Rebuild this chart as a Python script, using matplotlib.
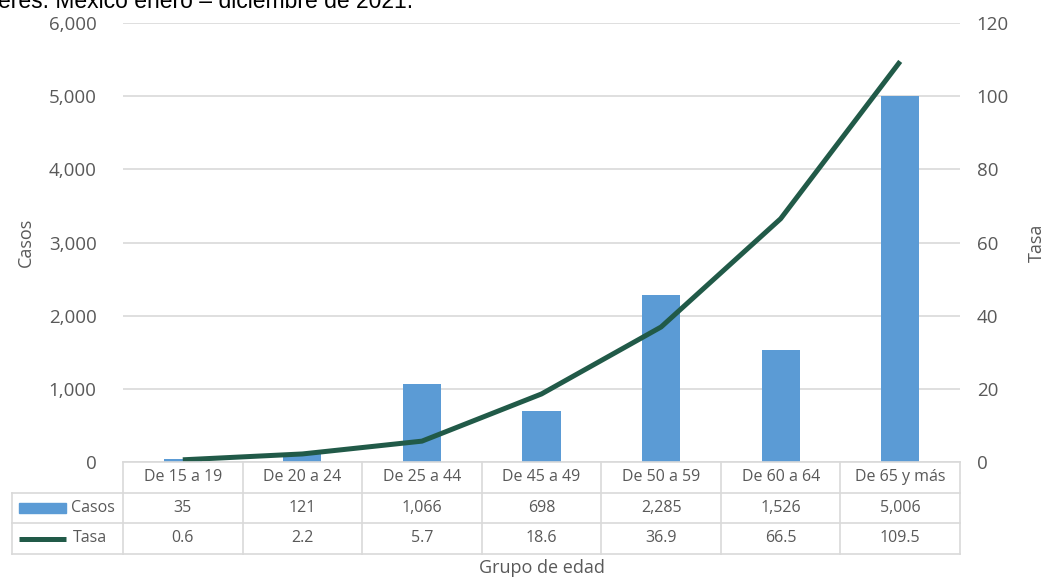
import matplotlib
matplotlib.use("Agg")
import matplotlib.pyplot as plt
from matplotlib.lines import Line2D
from matplotlib.patches import Rectangle
from matplotlib.ticker import FuncFormatter, MultipleLocator
import matplotlib.transforms as mtransforms

# Data
grupos = ["De 15 a 19", "De 20 a 24", "De 25 a 44", "De 45 a 49",
          "De 50 a 59", "De 60 a 64", "De 65 y más"]
casos = [35, 121, 1066, 698, 2285, 1526, 5006]
tasa = [0.6, 2.2, 5.7, 18.6, 36.9, 66.5, 109.5]
casos_labels = ["35", "121", "1,066", "698", "2,285", "1,526", "5,006"]
tasa_labels = ["0.6", "2.2", "5.7", "18.6", "36.9", "66.5", "109.5"]
titulo = "eres. México enero – diciembre de 2021."

BAR = "#5b9bd5"
LINE = "#215a48"
GRID = "#d9d9d9"
TXT = "#595959"
FONT = "Open Sans"

W, H = 1050, 586
fig = plt.figure(figsize=(W / 100, H / 100), dpi=100)
fig.patch.set_facecolor("white")


def fx(px):
    return px / W


def fy(py):
    return 1 - py / H


# Plot area
left, right, top, bottom = 123, 960, 23, 462
ax = fig.add_axes([fx(left), fy(bottom), fx(right - left), (bottom - top) / H])
ax2 = ax.twinx()

x = list(range(len(grupos)))
ax.bar(x, casos, width=0.32, color=BAR, zorder=2)
ax2.plot(x, tasa, color=LINE, lw=3.6, solid_capstyle="butt", zorder=3)

ax.set_xlim(-0.5, len(grupos) - 0.5)
ax.set_ylim(0, 6000)
ax2.set_ylim(0, 120)
ax.yaxis.set_major_locator(MultipleLocator(1000))
ax2.yaxis.set_major_locator(MultipleLocator(20))
ax.yaxis.set_major_formatter(FuncFormatter(lambda v, p: f"{int(v):,}"))
ax.set_xticks([])
ax.grid(axis="y", color=GRID, lw=1.2, zorder=0)
ax.set_axisbelow(True)
for a in (ax, ax2):
    for s in a.spines.values():
        s.set_visible(False)
    a.tick_params(axis="y", length=0, labelsize=13.5, labelcolor=TXT)
    for lab in a.get_yticklabels():
        lab.set_fontfamily(FONT)
ax.tick_params(axis="y", pad=19)
ax2.tick_params(axis="y", pad=12)
ax2.set_zorder(ax.get_zorder() + 1)
ax2.patch.set_visible(False)

ax.set_ylabel("Casos", fontsize=13, color=TXT, fontfamily=FONT, labelpad=10)
ax2.set_ylabel("Tasa", fontsize=13, color=TXT, fontfamily=FONT, labelpad=14)

# Data table below the plot
tr = mtransforms.blended_transform_factory(ax.transData, fig.transFigure)
rows = [462, 492.5, 523, 554]
x0 = -0.5
x1 = len(grupos) - 0.5
xl = -0.5 - (left - 12) / ((right - left) / len(grupos))


def hline(xa, xb, py):
    fig.add_artist(Line2D([xa, xb], [fy(py), fy(py)], transform=tr,
                          color=GRID, lw=1.2, clip_on=False))


def vline(xv, pa, pb):
    fig.add_artist(Line2D([xv, xv], [fy(pa), fy(pb)], transform=tr,
                          color=GRID, lw=1.2, clip_on=False))


hline(x0, x1, rows[0])
for r in rows[1:]:
    hline(xl, x1, r)
for i in range(len(grupos) + 1):
    vline(x0 + i, rows[0], rows[3])
vline(xl, rows[1], rows[3])

tkw = dict(transform=tr, ha="center", va="center", fontsize=11.5,
           color=TXT, fontfamily=FONT)
for i, g in enumerate(grupos):
    fig.text(i, fy((rows[0] + rows[1]) / 2), g, **tkw)
    fig.text(i, fy((rows[1] + rows[2]) / 2), casos_labels[i], **tkw)
    fig.text(i, fy((rows[2] + rows[3]) / 2), tasa_labels[i], **tkw)

# Legend keys inside the table
ym1 = (rows[1] + rows[2]) / 2
ym2 = (rows[2] + rows[3]) / 2
fig.add_artist(Rectangle((fx(19), fy(ym1 + 5)), fx(47), 10 / H,
                         transform=fig.transFigure, color=BAR))
fig.add_artist(Line2D([fx(19), fx(66)], [fy(ym2), fy(ym2)],
                      transform=fig.transFigure, color=LINE, lw=3.6,
                      solid_capstyle="butt"))
fig.text(fx(71), fy(ym1), "Casos", ha="left", va="center", fontsize=11.5,
         color=TXT, fontfamily=FONT)
fig.text(fx(73), fy(ym2), "Tasa", ha="left", va="center", fontsize=11.5,
         color=TXT, fontfamily=FONT)

fig.text(fx((left + right) / 2), fy(568), "Grupo de edad", ha="center",
         va="center", fontsize=13, color=TXT, fontfamily=FONT)

# Title line running off the top edge
fig.text(fx(-2), fy(8), titulo, ha="left", va="baseline", fontsize=16.5,
         color="black", fontfamily="Liberation Sans")

fig.savefig("out.png", dpi=100, facecolor="white")
